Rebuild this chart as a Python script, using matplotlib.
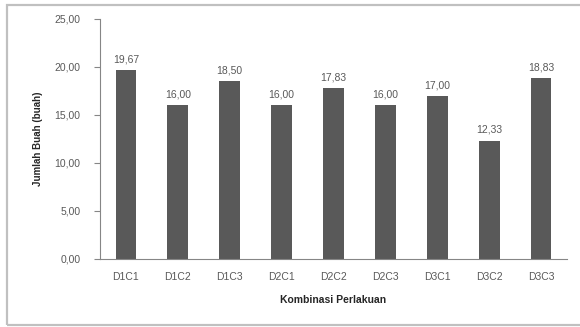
import matplotlib
matplotlib.use("Agg")
import matplotlib.pyplot as plt
from matplotlib.patches import Rectangle

kombinasi = ["D1C1", "D1C2", "D1C3", "D2C1", "D2C2", "D2C3", "D3C1", "D3C2", "D3C3"]
jumlah_buah = [19.67, 16.00, 18.50, 16.00, 17.83, 16.00, 17.00, 12.33, 18.83]
y_ticks = [0, 5, 10, 15, 20, 25]

def fmt(v):
    return f"{v:.2f}".replace(".", ",")

plt.rcParams["font.family"] = ["Liberation Sans", "DejaVu Sans"]
txt = "#595959"

fig = plt.figure(figsize=(5.8, 3.27), dpi=100)
# outer chart border (runs off the right edge)
fig.patches.append(Rectangle((7 / 580, 2 / 327), 590 / 580, 320 / 327,
                             transform=fig.transFigure, fill=False,
                             edgecolor="#c0c0c0", linewidth=1.6))

ax = fig.add_axes([100 / 580, 68 / 327, 467 / 580, 240 / 327])
x = range(len(kombinasi))
bars = ax.bar(x, jumlah_buah, width=0.4, color="#595959")
for b, v in zip(bars, jumlah_buah):
    ax.text(b.get_x() + b.get_width() / 2, v + 0.6, fmt(v),
            ha="center", va="bottom", fontsize=7.5, color=txt)

ax.set_xlim(-0.5, len(kombinasi) - 0.5)
ax.set_ylim(0, 25)
ax.set_yticks(y_ticks)
ax.set_yticklabels([fmt(t) for t in y_ticks], fontsize=7.5, color=txt)
ax.set_xticks(list(x))
ax.set_xticklabels(kombinasi, fontsize=7.5, color=txt)
ax.tick_params(axis="x", length=0, pad=9)
ax.tick_params(axis="y", length=4, color="#868686", pad=10)

for s in ["top", "right"]:
    ax.spines[s].set_visible(False)
for s in ["left", "bottom"]:
    ax.spines[s].set_color("#868686")
    ax.spines[s].set_linewidth(0.8)

ax.set_xlabel("Kombinasi Perlakuan", fontsize=7.5, fontweight="bold",
              color="#262626", labelpad=10)
ax.set_ylabel("Jumlah Buah (buah)", fontsize=7, fontweight="bold",
              color="#262626", labelpad=8)

fig.savefig("out.png", dpi=100)
